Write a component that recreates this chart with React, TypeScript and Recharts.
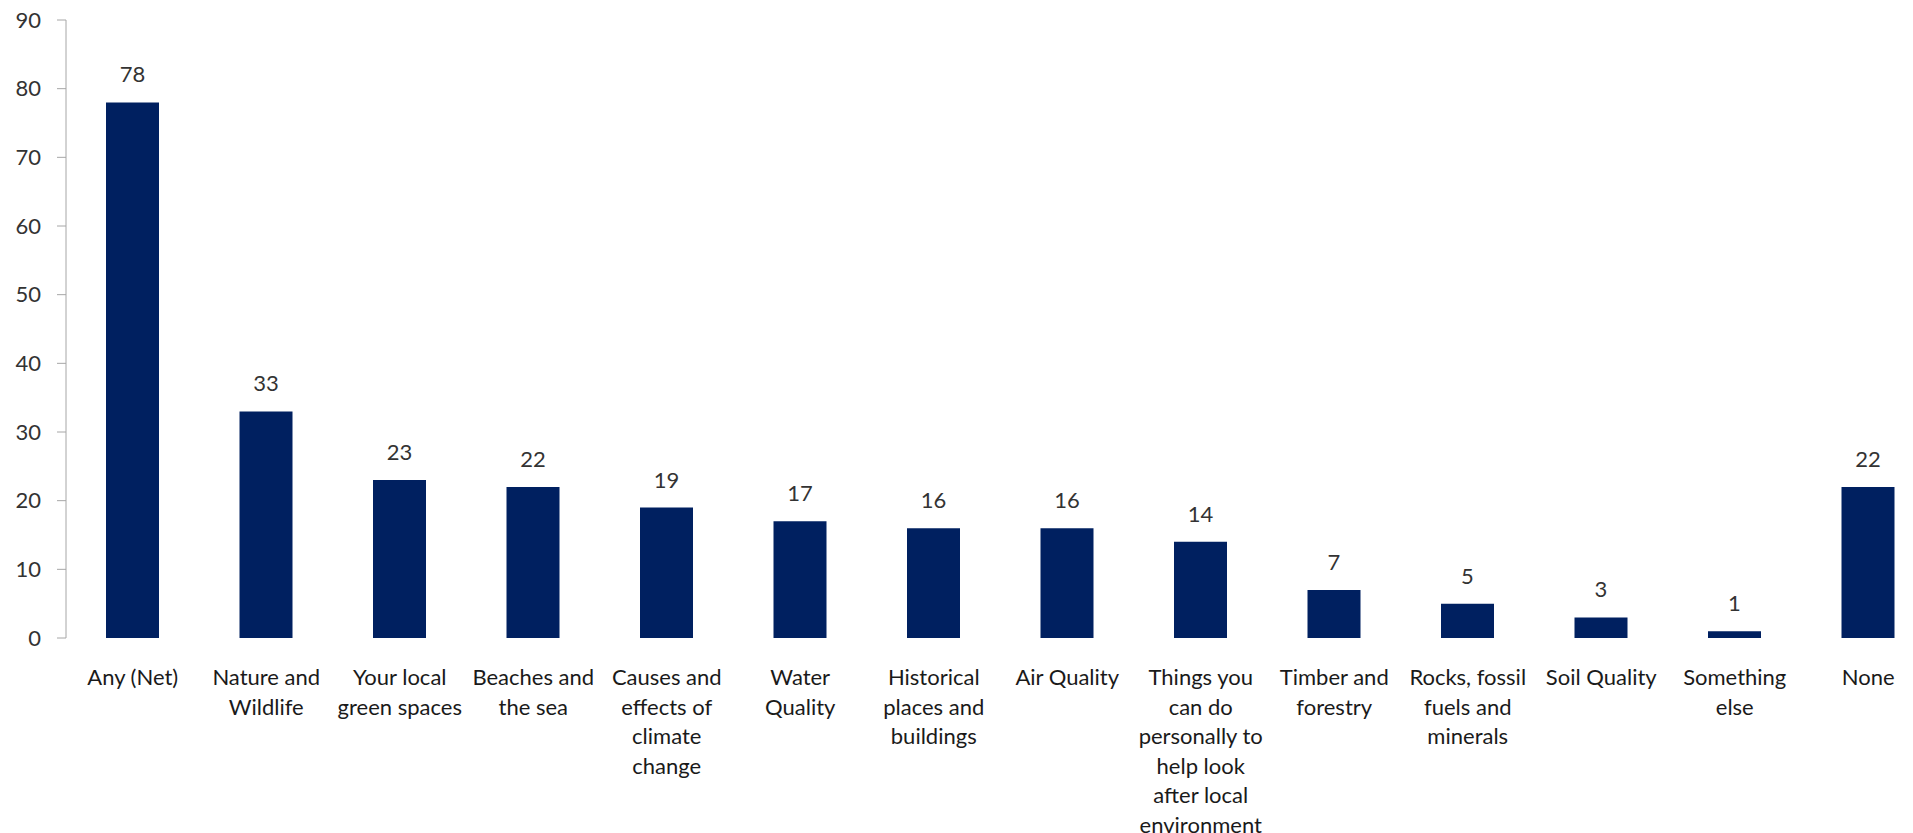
import React from 'react';
import { BarChart, Bar, XAxis, YAxis, LabelList } from 'recharts';

const categories = [
  'Any (Net)',
  'Nature and Wildlife',
  'Your local green spaces',
  'Beaches and the sea',
  'Causes and effects of climate change',
  'Water Quality',
  'Historical places and buildings',
  'Air Quality',
  'Things you can do personally to help look after local environment',
  'Timber and forestry',
  'Rocks, fossil fuels and minerals',
  'Soil Quality',
  'Something else',
  'None',
];

const categoryLines = [
  ['Any (Net)'],
  ['Nature and', 'Wildlife'],
  ['Your local', 'green spaces'],
  ['Beaches and', 'the sea'],
  ['Causes and', 'effects of', 'climate', 'change'],
  ['Water', 'Quality'],
  ['Historical', 'places and', 'buildings'],
  ['Air Quality'],
  ['Things you', 'can do', 'personally to', 'help look', 'after local', 'environment'],
  ['Timber and', 'forestry'],
  ['Rocks, fossil', 'fuels and', 'minerals'],
  ['Soil Quality'],
  ['Something', 'else'],
  ['None'],
];

const values = [78, 33, 23, 22, 19, 17, 16, 16, 14, 7, 5, 3, 1, 22];

const yTicks = [0, 10, 20, 30, 40, 50, 60, 70, 80, 90];

const boundaryTicks = [0, 1, 2, 3, 4, 5, 6, 7, 8, 9, 10, 11, 12, 13];

const data = categories.map((name, i) => ({ name, value: values[i], idx: i + 0.5 }));

const FONT = 'Lato, "Open Sans", sans-serif';
const AXIS_COLOR = '#a6a6a6';

const CatTick = (props: any) => {
  const { x, y, payload } = props;
  const i = categories.indexOf(payload.value);
  const lines = categoryLines[i] || [String(payload.value)];
  return (
    <text x={x} y={y} textAnchor="middle" fontFamily={FONT} fontSize={22} fill="#1a1a1a">
      {lines.map((l, k) => (
        <tspan key={k} x={x} dy={k === 0 ? 47 : 29.5}>
          {l}
        </tspan>
      ))}
    </text>
  );
};

export default function App() {
  return (
    <div style={{ position: 'fixed', left: 0, top: 0, width: 1913, height: 833, overflow: 'hidden', background: '#fff' }}>
      <BarChart
        width={1945}
        height={833}
        data={data}
        margin={{ top: 20, right: 10, bottom: 0, left: 0 }}
        barCategoryGap={0}
      >
        <XAxis
          xAxisId="bounds"
          dataKey="idx"
          type="number"
          domain={[0, 14]}
          ticks={boundaryTicks}
          allowDataOverflow
          tick={false}
          tickSize={8}
          tickLine={{ stroke: AXIS_COLOR }}
          axisLine={{ stroke: AXIS_COLOR }}
          height={0}
        />
        <XAxis
          xAxisId="cat"
          dataKey="name"
          axisLine={false}
          tickLine={false}
          tickSize={0}
          tickMargin={0}
          interval={0}
          height={195}
          tick={<CatTick />}
        />
        <YAxis
          domain={[0, 90]}
          ticks={yTicks}
          width={66}
          tickSize={9}
          tickMargin={16}
          interval={0}
          axisLine={{ stroke: AXIS_COLOR }}
          tickLine={{ stroke: AXIS_COLOR }}
          tick={{ fill: '#333', fontSize: 22, fontFamily: FONT }}
        />
        <Bar xAxisId="cat" dataKey="value" fill="#002060" barSize={53} isAnimationActive={false}>
          <LabelList dataKey="value" position="top" offset={20} fill="#333" fontSize={22} fontFamily={FONT} />
        </Bar>
      </BarChart>
    </div>
  );
}
